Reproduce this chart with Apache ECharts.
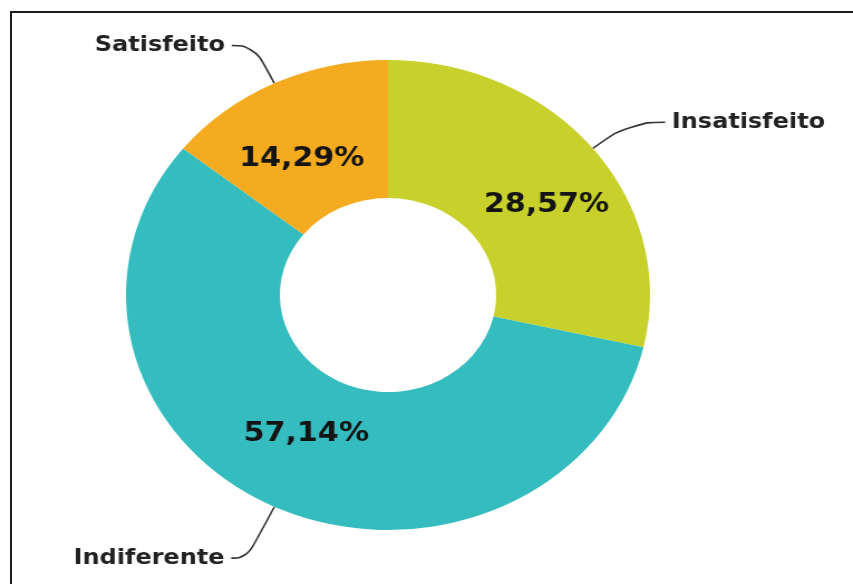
<!DOCTYPE html>
<html>
<head>
<meta charset="utf-8">
<script src="https://cdn.jsdelivr.net/npm/echarts@6/dist/echarts.min.js"></script>
<style>
  html, body { margin: 0; padding: 0; width: 853px; height: 584px; overflow: hidden; background: #fff; }
  #frame { position: absolute; left: 10px; top: 11px; width: 900px; height: 640px;
           border-top: 2px solid #1c1c1c; border-left: 2px solid #1c1c1c; }
  /* the donut is drawn on a narrower canvas and widened horizontally */
  #chart { position: absolute; left: 0; top: 0; width: 765px; height: 584px;
           transform: scaleX(1.115); transform-origin: 0 0; }
</style>
</head>
<body>
<div id="frame"></div>
<div id="chart"></div>
<script>
const categories = ['Insatisfeito', 'Indiferente', 'Satisfeito'];
const shares = [28.57, 57.14, 14.29];
const sliceColors = ['#c8d12b', '#34bcbf', '#f5ab1f'];

// per-slice placement tweaks for the value labels and leader lines
const labelTweaks = {
  'Insatisfeito': { offset: [10, 15], length: 42, length2: 32 },
  'Indiferente':  { offset: [0, -13], length: 57, length2: 14 },
  'Satisfeito':   { offset: [-4, 16], length: 42, length2: 20 }
};

const fmtPct = v => v.toFixed(2).replace('.', ',') + '%';

const innerData = categories.map((name, i) => ({
  name: name,
  value: shares[i],
  itemStyle: { color: sliceColors[i] },
  label: { offset: labelTweaks[name].offset }
}));

const outerData = categories.map((name, i) => ({
  name: name,
  value: shares[i],
  labelLine: { length: labelTweaks[name].length, length2: labelTweaks[name].length2 }
}));

const chart = echarts.init(document.getElementById('chart'));
chart.setOption({
  animation: false,
  series: [
    {
      type: 'pie',
      center: [348, 295],
      radius: [97, 235],
      startAngle: 90,
      clockwise: true,
      avoidLabelOverlap: false,
      silent: true,
      itemStyle: { borderWidth: 0 },
      label: {
        show: true,
        position: 'inside',
        formatter: p => fmtPct(p.value),
        fontFamily: 'DejaVu Sans',
        fontWeight: 'bold',
        fontSize: 27,
        color: '#141414'
      },
      labelLine: { show: false },
      data: innerData
    },
    {
      type: 'pie',
      center: [348, 295],
      radius: [97, 235],
      startAngle: 90,
      clockwise: true,
      avoidLabelOverlap: false,
      silent: true,
      itemStyle: { color: 'rgba(0,0,0,0)', borderWidth: 0 },
      label: {
        show: true,
        position: 'outside',
        formatter: '{b}',
        fontFamily: 'DejaVu Sans',
        fontWeight: 'bold',
        fontSize: 21.5,
        color: '#222',
        distanceToLabelLine: 6
      },
      labelLine: {
        show: true,
        length: 42,
        length2: 20,
        smooth: 0.5,
        lineStyle: { color: '#333', width: 1.6 }
      },
      data: outerData
    }
  ]
});
</script>
</body>
</html>
